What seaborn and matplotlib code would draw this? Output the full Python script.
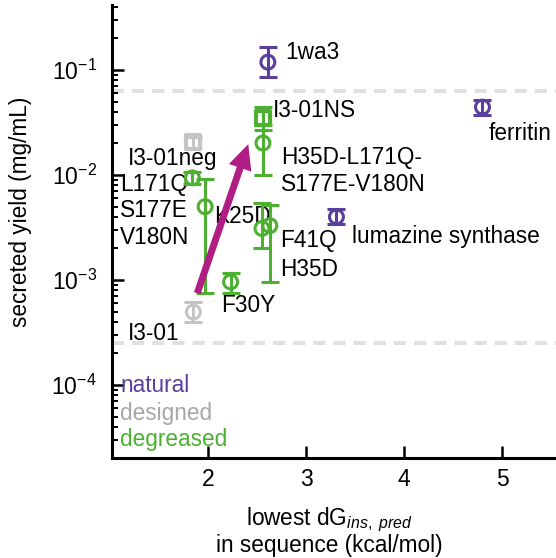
import numpy as np
import pandas as pd
import matplotlib
matplotlib.use("Agg")
import matplotlib.pyplot as plt
import seaborn as sns
from matplotlib.ticker import FixedLocator, FixedFormatter, LogLocator, NullFormatter

# ---------------- data ----------------
names = ["1wa3", "ferritin", "lumazine synthase", "I3-01neg", "I3-01", "I3-01NS",
         "H35D-L171Q-\nS177E-V180N", "L171Q\nS177E\nV180N", "K25D", "F41Q", "H35D", "F30Y"]
groups = ["natural", "natural", "natural", "designed", "designed", "degreased",
          "degreased", "degreased", "degreased", "degreased", "degreased", "degreased"]
shapes = ["circle", "circle", "circle", "square", "circle", "square",
          "circle", "circle", "circle", "circle", "circle", "circle"]
dg_pred = [2.61, 4.80, 3.31, 1.85, 1.85, 2.56, 2.56, 1.84, 1.97, 2.55, 2.63, 2.23]
yield_mean = [0.119, 0.0444, 0.0040, 0.0206, 0.000496, 0.0349, 0.0202, 0.0094, 0.0050, 0.0031, 0.0033, 0.00096]
yield_hi = [0.166, 0.0518, 0.0047, 0.0230, 0.000617, 0.0445, 0.0300, 0.0107, 0.0092, 0.0054, 0.0052, 0.00117]
yield_lo = [0.0857, 0.0373, 0.0034, 0.0180, 0.000398, 0.0270, 0.0100, 0.0082, 0.00075, 0.0020, 0.00096, 0.00075]
threshold_lines = [0.063, 0.000251]
arrow_start = (1.89, 0.00075)
arrow_end = (2.41, 0.0197)
xticks = [2, 3, 4, 5]
yticks = [1e-4, 1e-3, 1e-2, 1e-1]
ytick_labels = [r"$10^{-4}$", r"$10^{-3}$", r"$10^{-2}$", r"$10^{-1}$"]
legend_labels = ["natural", "designed", "degreased"]

# ---------------- styling ----------------
palette = {"natural": "#5b3f9e", "designed": "#c4c4c4", "degreased": "#4cb030"}
text_colors = {"natural": "#5b3f9e", "designed": "#a6a6a6", "degreased": "#4cb030"}
label_offsets = {  # pixels (dx, dy) from the point
    "1wa3": (17, 10), "ferritin": (6, -26), "lumazine synthase": (16, -20),
    "I3-01neg": (-65, -16), "I3-01": (-65, -21), "I3-01NS": (10, 8),
    "H35D-L171Q-\nS177E-V180N": (18, -28), "L171Q\nS177E\nV180N": (-72, -33),
    "K25D": (9, -10), "F41Q": (18, -12), "H35D": (10, -44), "F30Y": (-9, -24),
}
FS = 16.3

sns.set_style("ticks")
plt.rcParams["font.family"] = ["Liberation Sans", "DejaVu Sans"]
plt.rcParams["mathtext.fontset"] = "custom"
plt.rcParams["mathtext.rm"] = "Liberation Sans"
plt.rcParams["mathtext.it"] = "Liberation Sans:italic"
plt.rcParams["mathtext.default"] = "regular"
for key in ["text.color", "axes.labelcolor", "xtick.color", "ytick.color", "axes.edgecolor"]:
    plt.rcParams[key] = "black"

df = pd.DataFrame({"name": names, "group": groups, "shape": shapes, "dg": dg_pred,
                   "y": yield_mean, "hi": yield_hi, "lo": yield_lo})

W, H = 556, 558
fig = plt.figure(figsize=(W / 100, H / 100), dpi=100)
ax = fig.add_axes([112 / W, 1 - 458 / H, 444 / W, 453 / H])
ax.set_yscale("log")
ax.set_xlim(1.02, 5.55)
ax.set_ylim(10 ** -4.695, 10 ** -0.38)

for yv in threshold_lines:
    ax.axhline(yv, color="#e0e0e0", lw=2.9, linestyle=(0, (3, 2)), zorder=0)

for _, r in df.iterrows():
    ax.errorbar(r.dg, r.y, yerr=[[r.y - r.lo], [r.hi - r.y]], fmt="none",
                ecolor=palette[r.group], elinewidth=2.2, capsize=6.3, capthick=2.2, zorder=2)

for shp, mk, s, lw in [("circle", "o", 100, 2.2), ("square", "s", 105, 3.0)]:
    sub = df[df["shape"] == shp]
    n0 = len(ax.collections)
    sns.scatterplot(data=sub, x="dg", y="y", hue="group", palette=palette, marker=mk,
                    s=s, linewidth=lw, ax=ax, legend=False, zorder=3)
    for coll in ax.collections[n0:]:
        fc = coll.get_facecolors()
        coll.set_edgecolors(fc)
        coll.set_facecolors("none")
        coll.set_zorder(3)

for _, r in df.iterrows():
    dx, dy = label_offsets[r["name"]]
    ax.annotate(r["name"], (r.dg, r.y), xytext=(dx, dy), textcoords="offset pixels",
                ha="left", va="center", fontsize=FS, color="black", zorder=1,
                linespacing=1.2)

ax.annotate("", xy=arrow_end, xytext=arrow_start,
            arrowprops=dict(facecolor="#b01e84", edgecolor="none", width=5.0,
                            headwidth=17, headlength=18, shrink=0), zorder=4)

legend_y = [0.161, 0.099, 0.040]
for lab, yy in zip(legend_labels, legend_y):
    ax.text(0.018, yy, lab, transform=ax.transAxes, color=text_colors[lab],
            fontsize=FS, ha="left", va="center")

sns.despine(ax=ax)
for sp in ["left", "bottom"]:
    ax.spines[sp].set_linewidth(2.2)
    ax.spines[sp].set_color("black")
ax.xaxis.set_major_locator(FixedLocator(xticks))
ax.set_xticklabels([str(t) for t in xticks])
ax.yaxis.set_major_locator(FixedLocator(yticks))
ax.yaxis.set_major_formatter(FixedFormatter(ytick_labels))
ax.yaxis.set_minor_locator(LogLocator(base=10, subs=np.arange(2, 10), numticks=30))
ax.yaxis.set_minor_formatter(NullFormatter())
ax.tick_params(which="major", direction="in", length=8.6, width=1.8, labelsize=16.5,
               color="black", labelcolor="black")
ax.tick_params(axis="y", which="major", pad=11)
ax.tick_params(axis="x", which="major", pad=7)
ax.tick_params(which="minor", direction="in", length=4.3, width=1.4, color="black")
ax.tick_params(axis="x", which="minor", bottom=False)

ax.set_ylabel("secreted yield (mg/mL)", fontsize=FS, color="black")
ax.yaxis.set_label_coords(-0.18, 0.543)
ax.set_xlabel("lowest dG$_{\\mathit{ins,\\ pred}}$\nin sequence (kcal/mol)", fontsize=FS,
              linespacing=1.0, color="black")
ax.xaxis.set_label_coords(0.49, -0.105)

fig.savefig("out.png", dpi=100)
